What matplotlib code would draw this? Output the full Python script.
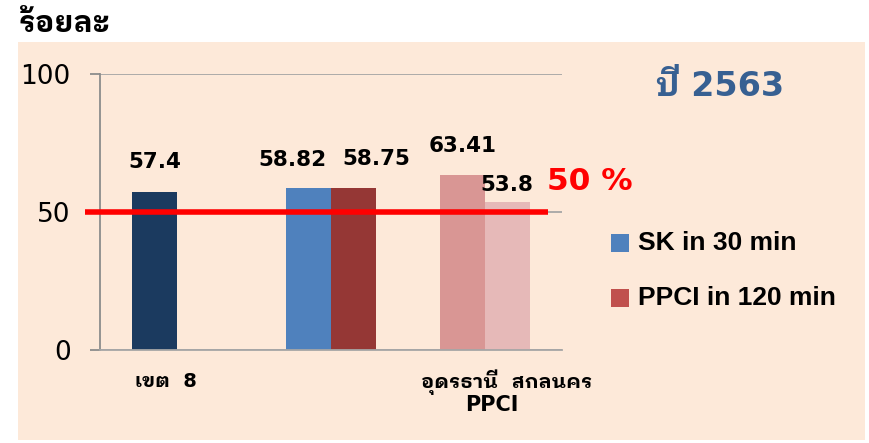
import matplotlib
matplotlib.use("Agg")
import matplotlib.pyplot as plt
import matplotlib.transforms as mtransforms
from matplotlib.patches import Rectangle
import numpy as np

# data
categories = ["เขต  8", "", "อุดรธานี  สกลนคร\nPPCI"]
sk_values = [57.4, 58.82, 63.41]
ppci_values = [np.nan, 58.75, 53.8]
sk_labels = ["57.4", "58.82", "63.41"]
ppci_labels = ["", "58.75", "53.8"]
target = 50

# per-bar colours (Excel style, individually recoloured points)
sk_colors = ["#1B3A5F", "#4F81BD", "#D99694"]
ppci_colors = ["#FFFFFF", "#953735", "#E6B9B8"]
# manual label nudges (points, label centre relative to bar top)
sk_offsets = [(0, 21), (-11.5, 20), (0, 21)]
ppci_offsets = [(0, 0), (16.5, 21), (0, 12)]

thai_bold = ["DejaVu Sans", "IBM Plex Sans Thai Looped"]

fig = plt.figure(figsize=(8.69, 4.43), dpi=100)
bg = Rectangle((18 / 869, 3 / 443), 847 / 869, 398 / 443,
               transform=fig.transFigure, facecolor="#FDE9D9",
               edgecolor="none", zorder=-10)
fig.patches.append(bg)

ax = fig.add_axes([100 / 869, 93 / 443, 462 / 869, 276 / 443], zorder=1)
ax.patch.set_visible(False)

x = np.arange(len(categories))
w = 0.29
ax.bar(x - w / 2, sk_values, w, color=sk_colors, zorder=2)
ax.bar(x + w / 2, ppci_values, w, color=ppci_colors, zorder=2)

for i in range(len(x)):
    ax.annotate(sk_labels[i], (x[i] - w / 2, sk_values[i]), xytext=sk_offsets[i],
                textcoords="offset points", ha="center", va="center",
                fontsize=15.5, fontweight="bold", family="DejaVu Sans")
    if ppci_labels[i]:
        ax.annotate(ppci_labels[i], (x[i] + w / 2, ppci_values[i]), xytext=ppci_offsets[i],
                    textcoords="offset points", ha="center", va="center",
                    fontsize=15.5, fontweight="bold", family="DejaVu Sans")

ax.set_xlim(-0.5, 2.5)
ax.set_ylim(0, 100)
ax.set_yticks([0, 50, 100])
ax.tick_params(axis="y", length=7, color="#8C8C8C", width=1.3, labelsize=19, pad=14)
ax.tick_params(axis="x", length=0)
ax.set_xticks([])
ax.grid(axis="y", color="#A6A6A6", linewidth=1.3, zorder=1)
for s in ["top", "right"]:
    ax.spines[s].set_visible(False)
ax.spines["left"].set_color("#8C8C8C")
ax.spines["bottom"].set_color("#A6A6A6")
ax.spines["left"].set_linewidth(1.3)
ax.spines["bottom"].set_linewidth(1.3)

# 50% target line
trans = mtransforms.blended_transform_factory(ax.transAxes, ax.transData)
ax.plot([-0.032, 0.97], [target, target], color="#FF0000", linewidth=4,
        transform=trans, clip_on=False, zorder=3, solid_capstyle="butt")

# category labels
ax.text(0.143, -0.115, categories[0], transform=ax.transAxes, ha="center", va="center",
        fontsize=14, fontweight="bold", family=thai_bold)
ax.text(0.88, -0.115, categories[2].split("\n")[0], transform=ax.transAxes, ha="center",
        va="center", fontsize=14.5, fontweight="bold", family=thai_bold)
ax.text(0.847, -0.2, categories[2].split("\n")[1], transform=ax.transAxes, ha="center",
        va="center", fontsize=15, fontweight="bold", family=thai_bold)

fig.text(18 / 869, 1 - 24 / 443, "ร้อยละ", ha="left", va="center", fontsize=21.5,
         fontweight="bold", family=["IBM Plex Sans Thai Looped", "DejaVu Sans"])
fig.text(720 / 869, 1 - 86 / 443, "ปี 2563", ha="center", va="center", fontsize=24,
         fontweight="bold", color="#376092", family=thai_bold)
fig.text(590 / 869, 1 - 182 / 443, "50 %", ha="center", va="center", fontsize=22.5,
         fontweight="bold", color="#FF0000", family="DejaVu Sans")

# legend
leg_items = [("SK in 30 min", "#4F81BD", 243), ("PPCI in 120 min", "#C0504D", 298)]
for lab, col, yy in leg_items:
    fig.patches.append(Rectangle((611 / 869, 1 - (yy + 9) / 443), 18 / 869, 18 / 443,
                                 transform=fig.transFigure, facecolor=col,
                                 edgecolor="none"))
    fig.text(638 / 869, 1 - yy / 443, lab, ha="left", va="center", fontsize=19,
             fontweight="bold", family="Liberation Sans")

fig.savefig("out.png", dpi=100)
